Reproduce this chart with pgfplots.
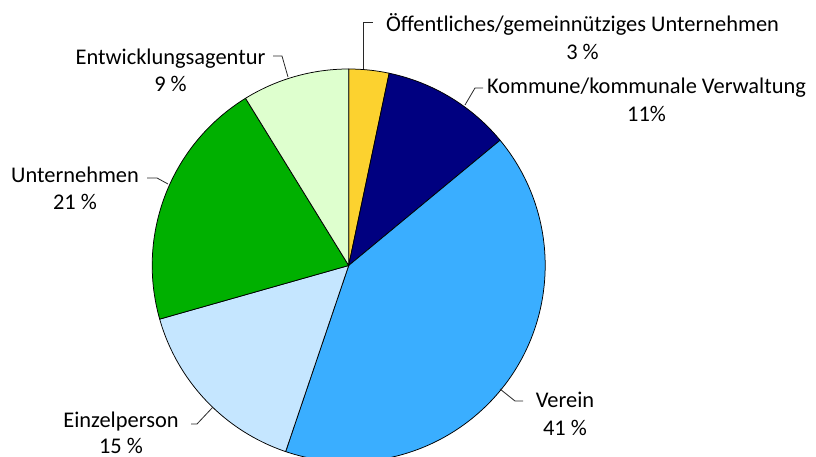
\documentclass[border=0pt]{standalone}
\usepackage{fontspec}
\setmainfont{Carlito}
\usepackage{pgfplots}
\usepackage{pgfplotstable}
\pgfplotsset{compat=1.18}

\definecolor{pie1}{RGB}{252,210,47}
\definecolor{pie2}{RGB}{0,0,128}
\definecolor{pie3}{RGB}{58,174,255}
\definecolor{pie4}{RGB}{197,230,255}
\definecolor{pie5}{RGB}{0,176,0}
\definecolor{pie6}{RGB}{222,255,206}
\definecolor{lead}{RGB}{40,40,40}

% slices clockwise from 12 o'clock; cum = running total in percent
\pgfplotstableread{
cx     cy      share cum   idx
348.7  -265.5  3.3   3.3   1
348.7  -265.5  10.7  14.0  2
348.7  -265.5  41.2  55.2  3
348.7  -265.5  15.4  70.6  4
348.7  -265.5  20.6  91.2  5
348.7  -265.5  8.8   100   6
}\piedata

\newcommand{\lbl}{\fontsize{22.5}{28}\selectfont}

\begin{document}
\begin{tikzpicture}
\begin{axis}[
    name=pie,
    width=816bp, height=457bp, scale only axis,
    xmin=0, xmax=816, ymin=-457, ymax=0,
    hide axis,
    clip marker paths=true,
]
\addplot[
    scatter, only marks, mark=text, text mark={},
    visualization depends on={\thisrow{share} \as \sharev},
    visualization depends on={\thisrow{cum} \as \cumv},
    visualization depends on={\thisrow{idx} \as \idxv},
    scatter/@pre marker code/.code={%
        \pgfmathsetmacro\sa{90-3.6*(\cumv-\sharev)}%
        \pgfmathsetmacro\ea{90-3.6*\cumv}%
        \pgfmathtruncatemacro\ci{\idxv}%
        \filldraw[fill=pie\ci, draw=black, line width=0.75bp, line join=round]
            (0pt,0pt) -- (\sa:196.5bp) arc[start angle=\sa, end angle=\ea, radius=196.5bp] -- cycle;%
    },
    scatter/@post marker code/.code={},
] table[x=cx, y=cy] {\piedata};

% leader lines
\draw[lead, line width=0.8bp] (axis cs:363,-69) -- (axis cs:363,-22) -- (axis cs:373,-22);
\draw[lead, line width=0.8bp] (axis cs:465,-105) -- (axis cs:475,-88) -- (axis cs:483,-88);
\draw[lead, line width=0.8bp] (axis cs:500,-389) -- (axis cs:515,-401) -- (axis cs:523,-401);
\draw[lead, line width=0.8bp] (axis cs:213,-407) -- (axis cs:197,-424) -- (axis cs:191,-424);
\draw[lead, line width=0.8bp] (axis cs:168,-184) -- (axis cs:157,-178) -- (axis cs:147,-178);
\draw[lead, line width=0.8bp] (axis cs:288,-77) -- (axis cs:282,-56) -- (axis cs:273,-56);

% labels
\node[anchor=base, inner sep=0pt, font=\lbl] at (axis cs:582.5,-32) {Öffentliches/gemeinnütziges Unternehmen};
\node[anchor=base, inner sep=0pt, font=\lbl] at (axis cs:582.5,-60) {3 \%};
\node[anchor=base, inner sep=0pt, font=\lbl] at (axis cs:646.5,-94) {Kommune/kommunale Verwaltung};
\node[anchor=base, inner sep=0pt, font=\lbl] at (axis cs:646.5,-122) {11\%};
\node[anchor=base, inner sep=0pt, font=\lbl] at (axis cs:565,-408) {Verein};
\node[anchor=base, inner sep=0pt, font=\lbl] at (axis cs:565,-435) {41 \%};
\node[anchor=base, inner sep=0pt, font=\lbl] at (axis cs:121,-427) {Einzelperson};
\node[anchor=base, inner sep=0pt, font=\lbl] at (axis cs:121,-453) {15 \%};
\node[anchor=base, inner sep=0pt, font=\lbl] at (axis cs:75,-183) {Unternehmen};
\node[anchor=base, inner sep=0pt, font=\lbl] at (axis cs:75,-210) {21 \%};
\node[anchor=base, inner sep=0pt, font=\lbl] at (axis cs:170.5,-65) {Entwicklungsagentur};
\node[anchor=base, inner sep=0pt, font=\lbl] at (axis cs:170.5,-92) {9 \%};
\end{axis}
\pgfresetboundingbox
\useasboundingbox (pie.south west) rectangle (pie.north east);
\end{tikzpicture}
\end{document}
